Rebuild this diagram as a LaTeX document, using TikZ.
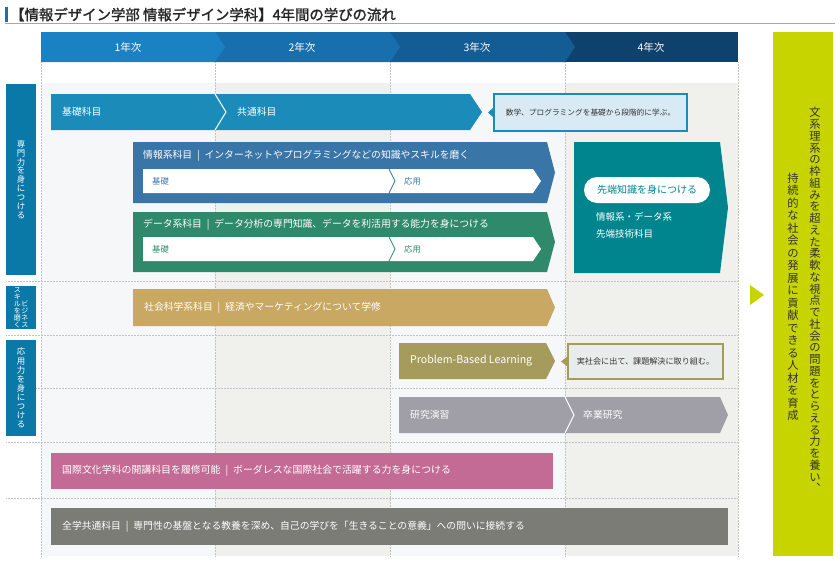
\documentclass[tikz,border=0pt]{standalone}
\usepackage{fontspec}
\setmainfont{Noto Sans CJK JP}
\newfontfamily\titlefont{Noto Sans CJK JP}[FakeBold=1.6]
\usetikzlibrary{shapes.misc}
\definecolor{titleBl}{HTML}{1A6FAE}
\definecolor{yrA}{HTML}{1A82C4}
\definecolor{yrB}{HTML}{176FAE}
\definecolor{yrC}{HTML}{135D94}
\definecolor{yrD}{HTML}{0E416B}
\definecolor{sideBl}{HTML}{0A79A8}
\definecolor{kisoBl}{HTML}{1B8CBA}
\definecolor{noteBl}{HTML}{D8EAF3}
\definecolor{infoBl}{HTML}{3A75A8}
\definecolor{dataGr}{HTML}{2E8A6B}
\definecolor{sentanTl}{HTML}{00858F}
\definecolor{shakaiGd}{HTML}{C9A863}
\definecolor{pblOl}{HTML}{A49B5D}
\definecolor{notePl}{HTML}{E8ECEA}
\definecolor{kenkyuGy}{HTML}{A09FA7}
\definecolor{kokusaiPk}{HTML}{C46B95}
\definecolor{zengakuGy}{HTML}{7B7C76}
\definecolor{goalGn}{HTML}{C8D400}
\definecolor{bgLt}{HTML}{F5F7F9}
\definecolor{bgBe}{HTML}{F0F1EC}
\definecolor{dotGy}{HTML}{C4C4C4}
% vertical text: one character per line
\newcommand\tate[2]{\vbox{\baselineskip=#1\relax\lineskiplimit=-\maxdimen\tatestep#2\relax}}
\def\tatestep#1{\ifx\relax#1\else\hbox to 1em{\hss#1\hss}\expandafter\tatestep\fi}
\newcommand\sep{\enspace{\color{white!65}|}\enspace}
\begin{document}
\begin{tikzpicture}[x=1pt,y=-1pt,every node/.style={inner sep=0pt},
    wtxt/.style={anchor=west,text=white,font=\fontsize{9.8}{9.8}\selectfont},
    yr/.style={text=white,font=\fontsize{10.5}{10.5}\selectfont},
    sidebox/.style={fill=sideBl,text=white,minimum width=30pt},
    bartxt/.style={anchor=west,font=\fontsize{8.3}{8.3}\selectfont},
    notebox/.style={line width=1.2pt,text=black!80},
    grid/.style={dotGy,densely dotted,line width=0.5pt}]
  \useasboundingbox (0,0) rectangle (840,560);
  \fill[white] (0,0) rectangle (840,560);
  % title
  \fill[titleBl] (5,7) rectangle (8,22);
  \draw[gray!70,line width=0.6pt] (5,23) -- (835,23);
  \node[anchor=west,text=black!85,font=\titlefont\fontsize{14.4}{14.4}\selectfont] (title) at (10,14.5)
    {【情報デザイン学部 情報デザイン学科】4年間の学びの流れ};
  % background
  \fill[bgLt] (41,83) rectangle (738,556);
  \fill[bgBe] (215,83) rectangle (390,556);
  \fill[bgBe] (565,83) rectangle (738,556);
  \foreach \gx in {41,215,390,565,738}
    \draw[grid] (\gx,62) -- (\gx,556);
  \foreach \gy in {281,335,388,442,498}
    \draw[grid] (6,\gy) -- (738,\gy);
  % years
  \fill[yrD] (565,32) rectangle (738,62);
  \fill[yrC] (390,32) -- (565,32) -- (575,47) -- (565,62) -- (390,62) -- cycle;
  \fill[yrB] (215,32) -- (390,32) -- (400,47) -- (390,62) -- (215,62) -- cycle;
  \fill[yrA] (41,32) -- (215,32) -- (225,47) -- (215,62) -- (41,62) -- cycle;
  \node[yr] (y1) at (128,47) {1年次};
  \node[yr] (y2) at (302,47) {2年次};
  \node[yr] (y3) at (477,47) {3年次};
  \node[yr] (y4) at (651,47) {4年次};
  % side labels
  \node[sidebox,minimum height=191pt,font=\fontsize{8.4}{8.4}\selectfont] (senmon) at (21,179.5)
    {\tate{8.9pt}{専門力を身につける}};
  \node[sidebox,minimum height=43pt,font=\fontsize{7}{7}\selectfont] (biz) at (21,307.5)
    {\tate{6.9pt}{スキルを磨く}\hspace{0.5pt}\tate{6.9pt}{ビジネス}};
  \node[sidebox,minimum height=96pt,font=\fontsize{8.4}{8.4}\selectfont] (oyo) at (21,388)
    {\tate{9.1pt}{応用力を身につける}};
  % row 1
  \fill[kisoBl] (51,94) -- (470,94) -- (482,112) -- (470,130) -- (51,130) -- cycle;
  \draw[white,line width=1pt] (215,94) -- (226,112) -- (215,130);
  \node[wtxt] (kiso) at (62,112) {基礎科目};
  \node[wtxt] (kyotsu) at (237,112) {共通科目};
  \node[notebox,draw=kisoBl,fill=noteBl,minimum width=193pt,minimum height=37pt,
    font=\fontsize{7.7}{7.7}\selectfont] (sugaku) at (590.5,112.5)
    {数学、プログラミングを基礎から段階的に学ぶ。};
  \fill[kisoBl] (494,107) -- (488,112.5) -- (494,118) -- cycle;
  % info
  \fill[infoBl] (133,142) -- (547,142) -- (555,172.5) -- (547,203) -- (133,203) -- cycle;
  \fill[white] (143,169) -- (533,169) -- (541,181) -- (533,193) -- (143,193) -- cycle;
  \draw[infoBl,line width=0.8pt] (389,169) -- (395,181) -- (389,193);
  \node[wtxt] (info) at (143,156) {情報系科目\sep インターネットやプログラミングなどの知識やスキルを磨く};
  \node[bartxt,text=infoBl] (infoK) at (152,181) {基礎};
  \node[bartxt,text=infoBl] (infoO) at (404,181) {応用};
  % data
  \fill[dataGr] (133,212) -- (547,212) -- (555,242) -- (547,272) -- (133,272) -- cycle;
  \fill[white] (143,237) -- (533,237) -- (541,249) -- (533,261) -- (143,261) -- cycle;
  \draw[dataGr,line width=0.8pt] (389,237) -- (395,249) -- (389,261);
  \node[wtxt] (data) at (143,225) {データ系科目\sep データ分析の専門知識、データを利活用する能力を身につける};
  \node[bartxt,text=dataGr] (dataK) at (152,249) {基礎};
  \node[bartxt,text=dataGr] (dataO) at (404,249) {応用};
  % advanced
  \fill[sentanTl] (574,142) -- (720,142) -- (728,207.5) -- (720,273) -- (574,273) -- cycle;
  \node[rounded rectangle,fill=white,text=sentanTl,minimum width=126pt,minimum height=26pt,
    font=\fontsize{10}{10}\selectfont] (sentan) at (647,190) {先端知識を身につける};
  \node[wtxt,font=\fontsize{9.5}{9.5}\selectfont] (sentanA) at (596,217) {情報系・データ系};
  \node[wtxt,font=\fontsize{9.5}{9.5}\selectfont] (sentanB) at (596,234) {先端技術科目};
  % business
  \fill[shakaiGd] (133,289) -- (547,289) -- (555,307.5) -- (547,326) -- (133,326) -- cycle;
  \node[wtxt] (shakai) at (144,307.5) {社会科学系科目\sep 経済やマーケティングについて学修};
  % applied
  \fill[pblOl] (399,343) -- (546,343) -- (555,361) -- (546,379) -- (399,379) -- cycle;
  \node[wtxt,font=\fontsize{10.6}{10.6}\selectfont] (pbl) at (410,361) {Problem-Based Learning};
  \node[notebox,draw=pblOl,fill=notePl,minimum width=155pt,minimum height=35pt,
    font=\fontsize{8.1}{8.1}\selectfont] (jissha) at (645.5,361.5)
    {実社会に出て、課題解決に取り組む。};
  \fill[pblOl] (568,356) -- (561,361.5) -- (568,367) -- cycle;
  \fill[kenkyuGy] (399,397) -- (720,397) -- (728,415) -- (720,433) -- (399,433) -- cycle;
  \draw[white,line width=1pt] (565,397) -- (574,415) -- (565,433);
  \node[wtxt] (enshu) at (410,415) {研究演習};
  \node[wtxt] (sotsugyo) at (583,415) {卒業研究};
  % common
  \fill[kokusaiPk] (51,453) rectangle (553,489);
  \node[wtxt,font=\fontsize{9.9}{9.9}\selectfont] (kokusai) at (62,471)
    {国際文化学科の開講科目を履修可能\sep ボーダレスな国際社会で活躍する力を身につける};
  \fill[zengakuGy] (51,508) rectangle (728,545);
  \node[wtxt,font=\fontsize{9.8}{9.8}\selectfont] (zengaku) at (62,526.5)
    {全学共通科目\sep 専門性の基盤となる教養を深め、自己の学びを「生きることの意義」への問いに接続する};
  % goal
  \fill[goalGn] (750,285) -- (764,295) -- (750,305) -- cycle;
  \fill[goalGn] (773,32) rectangle (833,556);
  \node[text=black!80,font=\fontsize{11.3}{11.3}\selectfont] (goalA) at (815,300)
    {\tate{11.75pt}{文系理系の枠組みを超えた柔軟な視点で社会の問題をとらえる力を養い︑}};
  \node[text=black!80,font=\fontsize{11.3}{11.3}\selectfont] (goalB) at (793,296.5)
    {\tate{12.5pt}{持続的な社会の発展に貢献できる人材を育成}};
\end{tikzpicture}
\end{document}
